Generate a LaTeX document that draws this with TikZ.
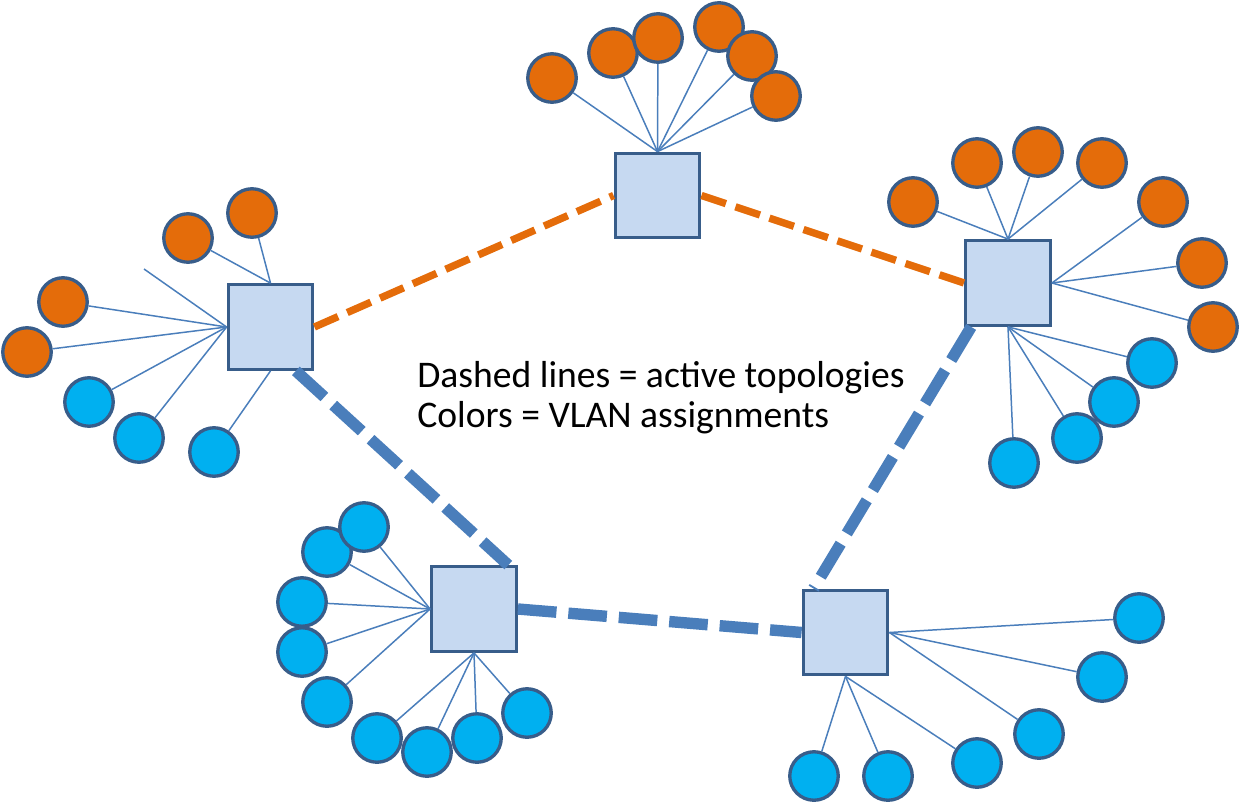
\documentclass[tikz,border=0pt]{standalone}
\usepackage{fontspec}
\setmainfont{Carlito}
\definecolor{hostorange}{HTML}{E46C0A}
\definecolor{hostcyan}{HTML}{00B0F0}
\definecolor{rimblue}{HTML}{385D8A}
\definecolor{boxfill}{HTML}{C6D9F1}
\definecolor{linkblue}{HTML}{4A7EBB}
\tikzset{
	switch/.style={draw=rimblue, fill=boxfill, line width=1.9pt, minimum size=1.69cm, inner sep=0pt},
	host/.style={circle, draw=rimblue, fill=#1, line width=1.9pt, minimum size=0.97cm, inner sep=0pt},
	wire/.style={linkblue, line width=0.85pt},
	vlanorange/.style={hostorange, line width=4.2pt, dash pattern=on 14.7pt off 5.7pt},
	vlanblue/.style={linkblue, line width=6.5pt, dash pattern=on 22pt off 6.8pt},
	legend/.style={anchor=base west, inner sep=0pt, font=\fontsize{21.4}{24}\selectfont}
}
\begin{document}
\begin{tikzpicture}[x=0.02cm, y=-0.02cm]
	\useasboundingbox (0,0) rectangle (1241,804);

	% switches
	\node[switch] (L) at (270.5,327) {};
	\node[switch] (T) at (657.5,195.5) {};
	\node[switch] (R) at (1008,283) {};
	\node[switch] (BL) at (474,609) {};
	\node[switch] (BR) at (845.5,632.5) {};

	% hosts
	\coordinate (L-stray) at (144,269);
	\draw[wire] (L-stray) -- (L.west);
	\foreach \x/\y/\c/\a [count=\i] in {252/213/hostorange/north, 188/238/hostorange/north,
		63/302/hostorange/west, 27/352/hostorange/west, 89/402/hostcyan/west,
		139/438/hostcyan/west, 214/452/hostcyan/south}
		{\node[host=\c] (L-\i) at (\x,\y) {}; \draw[wire] (L-\i) -- (L.\a);}
	\foreach \x/\y [count=\i] in {552/78, 613/53, 658/38, 719/27, 752/56, 776/96}
		{\node[host=hostorange] (T-\i) at (\x,\y) {}; \draw[wire] (T-\i) -- (T.north);}
	\foreach \x/\y/\c/\a [count=\i] in {913/202/hostorange/north, 977/163/hostorange/north,
		1038/152/hostorange/north, 1102/163/hostorange/north, 1163/202/hostorange/east,
		1202/263/hostorange/east, 1213/327/hostorange/east, 1152/363/hostcyan/south,
		1114/402/hostcyan/south, 1077/438/hostcyan/south, 1014/463/hostcyan/south}
		{\node[host=\c] (R-\i) at (\x,\y) {}; \draw[wire] (R-\i) -- (R.\a);}
	\foreach \x/\y/\a [count=\i] in {327/552/west, 364/527/west, 302/602/west, 302/652/west,
		327/702/west, 377/738/south, 427/752/south, 477/738/south, 527/713/south}
		{\node[host=hostcyan] (BL-\i) at (\x,\y) {}; \draw[wire] (BL-\i) -- (BL.\a);}
	\foreach \x/\y/\a [count=\i] in {1139/618/east, 1102/677/east, 1039/734/east,
		977/763/south, 888/776/south, 814/776/south}
		{\node[host=hostcyan] (BR-\i) at (\x,\y) {}; \draw[wire] (BR-\i) -- (BR.\a);}

	% active topologies
	\draw[vlanorange] (L.east) -- (T.west);
	\draw[vlanorange] (T.east) -- (R.west);
	\draw[vlanblue] (L.-60) -- (BL.52);
	\draw[vlanblue] (BL.east) -- (BR.west);
	\draw[vlanblue] (R.-130) -- (BR.126);

	\node[legend] (dashes) at (417,387) {Dashed lines = active topologies};
	\node[legend] (colors) at (417,427) {Colors = VLAN assignments};
\end{tikzpicture}
\end{document}
